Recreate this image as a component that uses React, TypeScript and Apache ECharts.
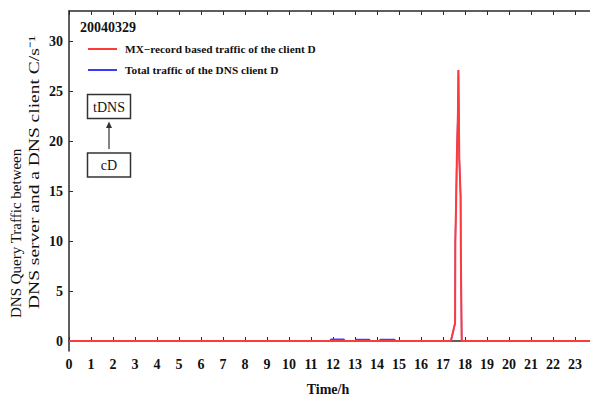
import React, { useEffect, useRef } from "react";
import * as echarts from "echarts";

const titleText = "20040329";
const seriesNames = ["MX\u2212record based traffic of the client D", "Total traffic of the DNS client D"];
const yTickValues = [0, 5, 10, 15, 20, 25, 30];
const xHours = [0, 1, 2, 3, 4, 5, 6, 7, 8, 9, 10, 11, 12, 13, 14, 15, 16, 17, 18, 19, 20, 21, 22, 23];

// MX-record based traffic (hour, C/s)
const mxHours = [0, 17.36, 17.55, 17.56, 17.6, 17.63, 17.68, 17.7, 17.72, 17.74, 17.8, 17.81, 17.83, 17.85, 24];
const mxValues = [0, 0, 1.8, 9.9, 14.3, 18.5, 22.9, 27.1, 27.1, 18.3, 14.5, 9.0, 4.5, 0, 0];

// Total traffic of the DNS client (hour, C/s)
const totalHours = [0, 11.85, 11.9, 12.5, 12.55, 13.0, 13.05, 13.65, 13.7, 14.1, 14.15, 14.8, 14.85, 17.36, 17.55, 17.56, 17.6, 17.63, 17.68, 17.7, 17.72, 17.74, 17.8, 17.81, 17.83, 17.85, 24];
const totalValues = [0, 0, 0.17, 0.17, 0, 0, 0.15, 0.15, 0, 0, 0.15, 0.15, 0, 0, 1.8, 9.9, 14.3, 18.5, 22.9, 27.1, 27.1, 18.3, 14.5, 9.0, 4.5, 0, 0];

const yNameLine1 = "DNS Query Traffic between";
const yNameLine2 = "DNS server and a DNS client C/s\u207B\u00B9";
const xName = "Time/h";
const boxTop = "tDNS";
const boxBottom = "cD";

const SERIF = "Liberation Serif, Times New Roman, serif";
const AX = "#2a2a2a";

export default function App() {
  const ref = useRef<HTMLDivElement>(null);
  useEffect(() => {
    document.body.style.margin = "0";
    document.body.style.overflow = "hidden";
    const chart = echarts.init(ref.current!, null, { renderer: "svg" });
    const pair = (xs: number[], ys: number[]) => xs.map((x, i) => [x, ys[i]]);
    const labelStyle = { fontFamily: SERIF, fontWeight: "bold" as const, fontSize: 14, color: "#111" };
    chart.setOption({
      animation: false,
      backgroundColor: "#fff",
      title: {
        text: titleText,
        left: 80,
        top: 20,
        padding: 0,
        textStyle: { fontFamily: SERIF, fontWeight: "bold", fontSize: 14, color: "#111" },
      },
      legend: {
        orient: "vertical",
        left: 88,
        top: 42,
        padding: 0,
        itemWidth: 29,
        itemHeight: 2,
        itemGap: 7,
        icon: "rect",
        data: seriesNames,
        textStyle: { fontFamily: SERIF, fontWeight: "bold", fontSize: 11.3, color: "#111", lineHeight: 14, padding: [0, 0, 0, 3] },
      },
      grid: { left: 69, right: 0, top: 11, bottom: 42 },
      xAxis: [
        {
          type: "value",
          min: 0,
          max: 24,
          interval: 1,
          name: xName,
          nameLocation: "middle",
          nameGap: 31,
          nameTextStyle: { fontFamily: SERIF, fontWeight: "bold", fontSize: 14, color: "#111", padding: [0, 10, 0, 0] },
          axisLine: { lineStyle: { color: AX, width: 1.5 } },
          axisTick: { inside: true, length: 4, lineStyle: { color: AX } },
          axisLabel: {
            ...labelStyle,
            margin: 6,
            showMaxLabel: false,
            formatter: (v: number) => (xHours.includes(v) ? String(v) : ""),
          },
          splitLine: { show: false },
        },
        {
          type: "value",
          position: "top",
          min: 0,
          max: 24,
          interval: 1,
          axisLine: { lineStyle: { color: AX, width: 1.5 } },
          axisTick: { inside: true, length: 4, lineStyle: { color: AX } },
          axisLabel: { show: false },
          splitLine: { show: false },
        },
      ],
      yAxis: {
        type: "value",
        min: -1,
        max: 33,
        axisLine: { show: true, lineStyle: { color: AX, width: 1.5 } },
        axisTick: { show: true, inside: true, length: 4, customValues: yTickValues, lineStyle: { color: AX } },
        axisLabel: { ...labelStyle, margin: 6, customValues: yTickValues },
        splitLine: { show: false },
      },
      series: [
        {
          name: seriesNames[1],
          type: "line",
          data: pair(totalHours, totalValues),
          symbol: "none",
          color: "#3a3aff",
          lineStyle: { width: 1.4, color: "#4040ff" },
          z: 2,
        },
        {
          name: seriesNames[0],
          type: "line",
          data: pair(mxHours, mxValues),
          symbol: "none",
          color: "#ff3a3a",
          lineStyle: { width: 2, color: "#ff3a3a" },
          z: 3,
        },
      ],
      graphic: [
        {
          type: "text",
          x: 16,
          y: 318,
          rotation: Math.PI / 2,
          style: { text: yNameLine1, font: `15px ${SERIF}`, fill: "#111", textAlign: "left", textVerticalAlign: "middle", verticalAlign: "middle" },
        },
        {
          type: "text",
          x: 34,
          y: 309,
          rotation: Math.PI / 2,
          scaleX: 1.3,
          style: { text: yNameLine2, font: `15px ${SERIF}`, fill: "#111", textAlign: "left", textVerticalAlign: "middle", verticalAlign: "middle" },
        },
        {
          type: "rect",
          shape: { x: 87.5, y: 94.5, width: 43, height: 24 },
          style: { fill: "#fff", stroke: "#333", lineWidth: 1.5 },
        },
        {
          type: "text",
          x: 109,
          y: 107,
          style: { text: boxTop, font: `14px ${SERIF}`, fill: "#111", textAlign: "center", textVerticalAlign: "middle", verticalAlign: "middle" },
        },
        {
          type: "rect",
          shape: { x: 87.5, y: 153, width: 43, height: 24 },
          style: { fill: "#fff", stroke: "#333", lineWidth: 1.5 },
        },
        {
          type: "text",
          x: 109,
          y: 165.5,
          style: { text: boxBottom, font: `14px ${SERIF}`, fill: "#111", textAlign: "center", textVerticalAlign: "middle", verticalAlign: "middle" },
        },
        {
          type: "line",
          shape: { x1: 109, y1: 149, x2: 109, y2: 127 },
          style: { stroke: "#333", lineWidth: 1.2 },
        },
        {
          type: "polygon",
          shape: { points: [[106, 128], [109, 121.5], [112, 128]] },
          style: { fill: "#333" },
        },
      ],
    });
    return () => chart.dispose();
  }, []);
  return (
    <div style={{ width: 590, height: 401, overflow: "hidden" }}>
      <div ref={ref} style={{ width: 597, height: 401 }} />
    </div>
  );
}
